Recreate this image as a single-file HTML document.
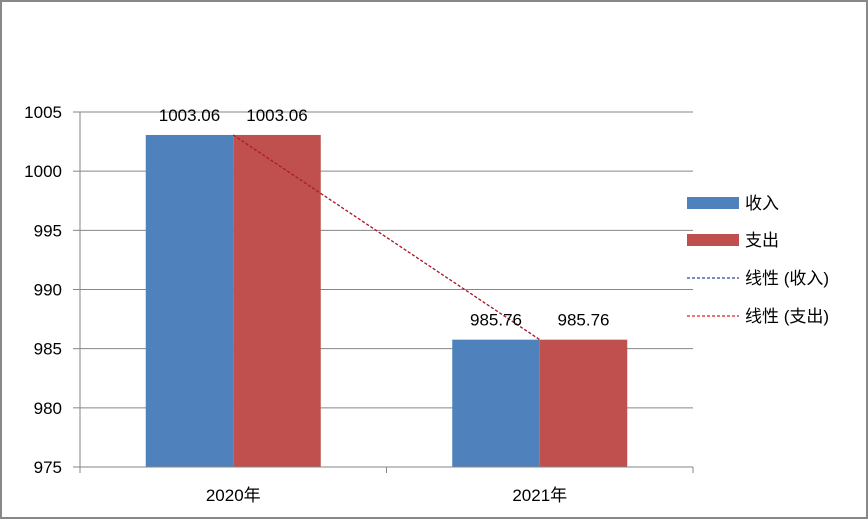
<!DOCTYPE html>
<html><head><meta charset="utf-8">
<style>
body{margin:0;background:#fff;}
svg{display:block;font-family:"Liberation Sans","Noto Sans CJK SC",sans-serif;}
</style></head>
<body>
<svg id="chart" width="868" height="519" viewBox="0 0 868 519" xmlns="http://www.w3.org/2000/svg">
<rect x="1" y="1" width="866" height="517" fill="#fff" stroke="#888" stroke-width="2"/>
<g id="grid"></g>
<g id="bars"></g>
<g id="trend"></g>
<g id="labels"></g>
<g id="axes"></g>
<g font-size="17" fill="#000">
<rect x="687" y="197" width="52" height="12" fill="#4F81BD"/>
<text x="745" y="209">收入</text>
<rect x="687" y="234" width="52" height="12" fill="#C0504D"/>
<text x="745" y="246">支出</text>
<line x1="687" y1="278" x2="739" y2="278" stroke="#1F4E99" stroke-width="1.2" stroke-dasharray="3,2"/>
<text x="745" y="284">线性 (收入)</text>
<line x1="687" y1="316" x2="739" y2="316" stroke="#E0201A" stroke-width="1.2" stroke-dasharray="3,2"/>
<text x="745" y="322">线性 (支出)</text>
</g>
</svg>
<script>
const categories = ["2020年", "2021年"];
const income = [1003.06, 985.76];
const expense = [1003.06, 985.76];
const yTicks = [975, 980, 985, 990, 995, 1000, 1005];

const NS = "http://www.w3.org/2000/svg";
const X0 = 80, X1 = 693, Y0 = 467, Y1 = 112, YMIN = 975, YMAX = 1005;
const catW = (X1 - X0) / categories.length;
const barW = 87.5;
function y(v){ return Y0 - (v - YMIN) / (YMAX - YMIN) * (Y0 - Y1); }
function cx(i){ return X0 + catW * (i + 0.5); }
function mk(tag, attrs, parent){
  const e = document.createElementNS(NS, tag);
  for (const k in attrs) e.setAttribute(k, attrs[k]);
  document.getElementById(parent).appendChild(e);
  return e;
}
yTicks.forEach(t => {
  const g = mk("line", {x1: X0, x2: X1, y1: y(t), y2: y(t), stroke: "#868686", "stroke-width": 1}, "grid");
  
  
  const tk = mk("line", {x1: X0 - 7, x2: X0, y1: y(t), y2: y(t), stroke: "#868686"}, "axes");
  
  
  const lb = mk("text", {x: 62, y: y(t) + 6, "text-anchor": "end", "font-size": 17}, "axes");
  lb.textContent = t;
  
  
});
const ya = mk("line", {x1: X0, x2: X0, y1: Y1, y2: Y0, stroke: "#868686"}, "axes");


for (let i = 0; i <= categories.length; i++) {
  const tk = mk("line", {x1: X0 + catW * i, x2: X0 + catW * i, y1: Y0, y2: Y0 + 6, stroke: "#868686"}, "axes");
  
  
}
categories.forEach((c, i) => {
  const b1 = mk("rect", {x: cx(i) - barW, y: y(income[i]), width: barW, height: Y0 - y(income[i]), fill: "#4F81BD"}, "bars");
  
  
  const b2 = mk("rect", {x: cx(i), y: y(expense[i]), width: barW, height: Y0 - y(expense[i]), fill: "#C0504D"}, "bars");
  
  
  const l1 = mk("text", {x: cx(i) - barW / 2, y: y(income[i]) - 14, "text-anchor": "middle", "font-size": 17}, "labels");
  l1.textContent = income[i].toFixed(2);
  
  
  const l2 = mk("text", {x: cx(i) + barW / 2, y: y(expense[i]) - 14, "text-anchor": "middle", "font-size": 17}, "labels");
  l2.textContent = expense[i].toFixed(2);
  
  
  const xl = mk("text", {x: cx(i), y: 501, "text-anchor": "middle", "font-size": 17}, "axes");
  xl.textContent = c;
  
  
});
const xa = mk("line", {x1: X0, x2: X1, y1: Y0, y2: Y0, stroke: "#868686"}, "axes");


function trend(vals, color, name){
  const n = vals.length;
  const mx = (n - 1) / 2, my = vals.reduce((a, b) => a + b, 0) / n;
  let sxy = 0, sxx = 0;
  vals.forEach((v, i) => { sxy += (i - mx) * (v - my); sxx += (i - mx) * (i - mx); });
  const m = sxx ? sxy / sxx : 0;
  const l = mk("line", {x1: cx(0), y1: y(my + m * (0 - mx)), x2: cx(n - 1), y2: y(my + m * (n - 1 - mx)), stroke: color, "stroke-width": 1.2, "stroke-dasharray": "3,2"}, "trend");
  
  
}
trend(income, "#1F4E99", "trendline-income");
trend(expense, "#C0151A", "trendline-expense");
</script>
</body></html>
